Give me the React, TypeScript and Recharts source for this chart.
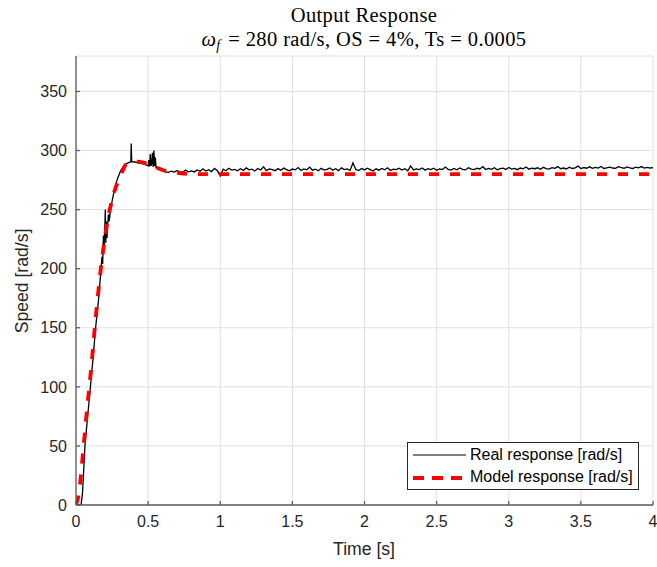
import React from 'react';
import { LineChart, Line, XAxis, YAxis, CartesianGrid } from 'recharts';

const xTicks = [0, 0.5, 1, 1.5, 2, 2.5, 3, 3.5, 4];
const yTicks = [0, 50, 100, 150, 200, 250, 300, 350];

// Real response: transient (read point by point)
const realTransientTime = [
  0, 0.035, 0.045, 0.062, 0.08, 0.1, 0.118, 0.136, 0.155, 0.171,
  0.18, 0.185, 0.19, 0.195, 0.2, 0.203, 0.207, 0.21, 0.215, 0.22,
  0.225, 0.23, 0.24, 0.25, 0.26, 0.27, 0.28, 0.29, 0.3, 0.31,
  0.32, 0.33, 0.34, 0.35, 0.36, 0.37, 0.38, 0.383, 0.386, 0.39,
  0.4, 0.42, 0.44, 0.46, 0.48, 0.5, 0.505, 0.51, 0.515, 0.52,
  0.525, 0.53, 0.535, 0.54, 0.545, 0.55, 0.555, 0.56, 0.57, 0.58,
];
const realTransientSpeed = [
  0, 0, 10, 50, 74, 100, 124, 150, 172, 196,
  210, 204, 228, 218, 236, 250, 222, 240, 226, 238,
  246, 240, 250, 257, 263, 268, 273, 277, 280, 283,
  285, 287, 288, 289, 289.5, 290, 290.5, 306, 290.5, 290.5,
  290.5, 290, 289.5, 289, 288, 287, 292, 286.5, 297, 287,
  289, 298, 286, 300, 287, 294, 285.5, 286, 284.5, 284,
];

// Real response: steady state, sampled every 0.02 s from 0.60 s to 4.00 s
const steadyStart = 0.6;
const steadyStep = 0.02;
const realSteadySpeed = [
  283.0, 282.0, 281.5, 282.5, 281.8, 283.0, 282.2, 281.6, 283.4, 282.0,
  282.8, 281.9, 283.5, 282.4, 284.5, 282.6, 283.8, 282.2, 284.9, 283.0,
  278.5, 284.2, 282.9, 285.0, 283.4, 284.0, 282.8, 284.6, 283.2, 285.3,
  283.6, 284.2, 282.7, 284.8, 283.5, 286.2, 283.0, 284.4, 283.8, 282.9,
  284.7, 283.3, 285.1, 283.9, 282.8, 284.3, 283.6, 285.6, 283.1, 284.5,
  283.7, 286.0, 283.4, 284.2, 282.9, 284.9, 283.5, 284.1, 285.2, 283.3,
  284.6, 283.0, 285.3, 283.8, 284.4, 283.2, 289.5, 284.0, 283.1, 284.8,
  283.6, 285.0, 283.9, 282.7, 284.5, 283.4, 284.9, 283.7, 285.4, 283.2,
  284.3, 283.8, 285.1, 283.5, 284.6, 282.9, 287.0, 283.6, 284.4, 283.9,
  285.2, 283.4, 284.7, 283.8, 285.0, 283.3, 284.5, 283.9, 286.0, 284.1,
  283.5, 284.8, 283.7, 285.3, 284.0, 283.6, 285.5, 284.2, 283.8, 285.0,
  284.4, 286.3, 283.9, 284.8, 284.1, 285.4, 283.7, 284.6, 285.1, 284.0,
  285.6, 284.3, 284.9, 283.8, 285.2, 284.5, 286.1, 284.2, 285.0, 284.6,
  285.4, 284.1, 285.8, 284.7, 284.3, 285.5, 284.9, 286.4, 284.6, 285.2,
  284.4, 285.9, 284.8, 285.3, 286.8, 284.7, 285.6, 285.0, 286.2, 284.9,
  285.7, 285.1, 286.5, 284.8, 285.4, 286.0, 285.2, 284.9, 286.3, 285.5,
  285.0, 286.1, 285.4, 284.8, 285.9, 285.3, 286.4, 285.1, 285.7, 285.2,
  285.6,
];

// Model response
const modelTime = [
  0, 0.02, 0.05, 0.07, 0.092, 0.11, 0.13, 0.15, 0.172, 0.2,
  0.22, 0.246, 0.27, 0.292, 0.32, 0.345, 0.37, 0.4, 0.43, 0.46,
  0.5, 0.55, 0.6, 0.65, 0.7, 0.75, 0.8, 0.9, 1.0, 4.0,
];
const modelSpeed = [
  0, 10, 46, 73, 100, 122, 150, 175, 200, 226,
  242, 256, 267, 274, 282, 288, 289.5, 290.5, 290.5, 290,
  288.5, 286, 283.5, 282, 281, 280.5, 280.2, 280, 280, 280,
];

const realData = [
  ...realTransientTime.map((t, i) => ({ t, v: realTransientSpeed[i] })),
  ...realSteadySpeed.map((v, i) => ({ t: +(steadyStart + i * steadyStep).toFixed(3), v })),
];
const modelData = modelTime.map((t, i) => ({ t, v: modelSpeed[i] }));

const AXIS = '#262626';
const FRAME = '#5c5c5c';
const tickStyle = { fontFamily: 'Liberation Sans, Arial, sans-serif', fontSize: 16, fill: AXIS };

export default function App() {
  return (
    <div style={{ position: 'absolute', left: 0, top: 0, width: 657, height: 567, background: '#fff' }}>
      <LineChart width={657} height={567} margin={{ top: 56, right: 4, bottom: 0, left: 0 }}>
        <CartesianGrid stroke="#e0e0e0" strokeWidth={1} />
        <XAxis
          type="number"
          dataKey="t"
          domain={[0, 4]}
          ticks={xTicks}
          allowDataOverflow
          height={62}
          tick={tickStyle}
          tickSize={-4}
          tickMargin={15}
          axisLine={{ stroke: FRAME, strokeWidth: 1.3 }}
          tickLine={{ stroke: FRAME, strokeWidth: 1.3 }}
        />
        <XAxis
          xAxisId="top"
          orientation="top"
          type="number"
          dataKey="t"
          domain={[0, 4]}
          ticks={xTicks}
          height={0}
          tick={tickStyle}
          tickFormatter={() => ''}
          tickSize={-4}
          axisLine={{ stroke: FRAME, strokeWidth: 1.3 }}
          tickLine={{ stroke: FRAME, strokeWidth: 1.3 }}
        />
        <YAxis
          type="number"
          domain={[0, 380]}
          ticks={yTicks}
          allowDataOverflow
          width={76}
          tick={tickStyle}
          tickSize={-4}
          tickMargin={13}
          axisLine={{ stroke: FRAME, strokeWidth: 1.3 }}
          tickLine={{ stroke: FRAME, strokeWidth: 1.3 }}
        />
        <YAxis
          yAxisId="right"
          orientation="right"
          type="number"
          domain={[0, 380]}
          ticks={yTicks}
          width={0}
          tick={tickStyle}
          tickFormatter={() => ''}
          tickSize={-4}
          axisLine={{ stroke: FRAME, strokeWidth: 1.3 }}
          tickLine={{ stroke: FRAME, strokeWidth: 1.3 }}
        />
        <Line
          data={realData}
          dataKey="v"
          type="linear"
          stroke="#000"
          strokeWidth={1.3}
          dot={false}
          isAnimationActive={false}
        />
        <Line
          data={modelData}
          dataKey="v"
          type="monotone"
          stroke="#ff0000"
          strokeWidth={3.8}
          strokeDasharray="10 11"
          dot={false}
          isAnimationActive={false}
        />
      </LineChart>

      <div style={{ position: 'absolute', left: 76, width: 576, top: 3, textAlign: 'center', fontFamily: 'Liberation Serif, serif', fontSize: 20.5, letterSpacing: 0.4, color: '#000', lineHeight: '24px' }}>
        Output Response
      </div>
      <div style={{ position: 'absolute', left: 76, width: 576, top: 27, textAlign: 'center', fontFamily: 'Liberation Serif, serif', fontSize: 20.5, letterSpacing: 0.4, color: '#000', lineHeight: '24px', whiteSpace: 'nowrap' }}>
        <i>ω</i><span style={{ fontSize: 14, fontStyle: 'italic', position: 'relative', top: 4, marginRight: 2 }}>f</span> = 280 rad/s, OS = 4%, Ts = 0.0005
      </div>

      <div style={{ position: 'absolute', left: 76, width: 576, top: 538, textAlign: 'center', fontFamily: 'Liberation Sans, Arial, sans-serif', fontSize: 17.6, color: AXIS, lineHeight: '22px' }}>
        Time [s]
      </div>
      <div style={{ position: 'absolute', left: 22, top: 281, width: 0, height: 0 }}>
        <div style={{ position: 'absolute', transform: 'translate(-50%, -50%) rotate(-90deg)', whiteSpace: 'nowrap', fontFamily: 'Liberation Sans, Arial, sans-serif', fontSize: 17.6, color: AXIS, lineHeight: '22px' }}>
          Speed [rad/s]
        </div>
      </div>

      <div style={{ position: 'absolute', left: 407, top: 442, width: 232, height: 48, boxSizing: 'border-box', border: `1px solid ${AXIS}`, background: '#fff', fontFamily: 'Liberation Sans, Arial, sans-serif', fontSize: 16, color: '#000' }}>
        <svg width={60} height={46} style={{ position: 'absolute', left: 0, top: 0 }}>
          <line x1={5} x2={58} y1={12} y2={12} stroke="#000" strokeWidth={1} />
          <line x1={5} x2={58} y1={35} y2={35} stroke="#ff0000" strokeWidth={3.8} strokeDasharray="11 8" />
        </svg>
        <div style={{ position: 'absolute', left: 62, top: 2, lineHeight: '20px', whiteSpace: 'nowrap' }}>Real response [rad/s]</div>
        <div style={{ position: 'absolute', left: 62, top: 24, lineHeight: '20px', whiteSpace: 'nowrap' }}>Model response [rad/s]</div>
      </div>
    </div>
  );
}
